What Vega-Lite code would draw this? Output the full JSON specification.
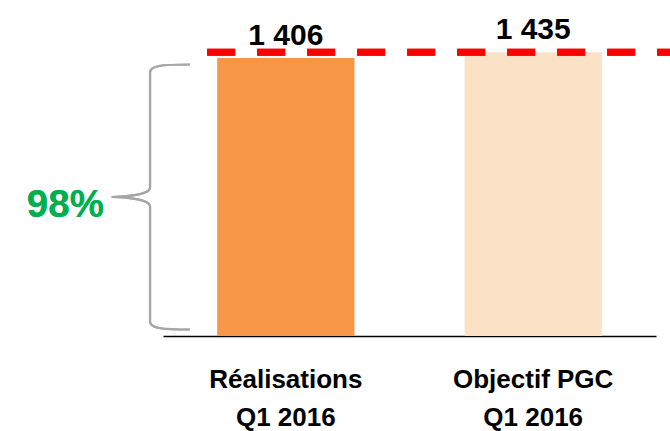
{
  "$schema": "https://vega.github.io/schema/vega-lite/v6.json",
  "width": 670,
  "height": 336,
  "autosize": "none",
  "padding": {"left": 0, "top": 0, "right": 0, "bottom": 95},
  "background": "white",
  "config": {
    "view": {"stroke": null},
    "font": "Liberation Sans",
    "locale": {"number": {"decimal": ",", "thousands": " ", "grouping": [3], "currency": ["", " €"]}}
  },
  "data": {
    "values": [
      {"categorie": "Réalisations\nQ1 2016", "valeur": 1406, "serie": "Réalisations"},
      {"categorie": "Objectif PGC\nQ1 2016", "valeur": 1435, "serie": "Objectif"}
    ]
  },
  "layer": [
    {
      "mark": {"type": "bar"},
      "encoding": {
        "x": {
          "field": "categorie", "type": "nominal", "sort": null,
          "scale": {"range": [163, 656], "paddingInner": 0.445, "paddingOuter": 0.219},
          "axis": {
            "title": null,
            "labelExpr": "split(datum.value, '\\n')",
            "labelAngle": 0,
            "labelFont": "Liberation Sans",
            "labelFontWeight": "bold",
            "labelFontSize": 26,
            "labelColor": "black",
            "labelLineHeight": 38,
            "labelPadding": 30,
            "labelLimit": 0,
            "ticks": false,
            "grid": false,
            "domainColor": "black",
            "domainWidth": 1.7
          }
        },
        "y": {
          "field": "valeur", "type": "quantitative",
          "scale": {"domain": [0, 1699.5], "nice": false, "zero": true},
          "axis": null
        },
        "color": {
          "field": "serie", "type": "nominal", "sort": null,
          "scale": {"domain": ["Réalisations", "Objectif"], "range": ["#F79646", "#FBE1C6"]},
          "legend": null
        }
      }
    },
    {
      "mark": {"type": "rule", "strokeDash": [28, 22], "strokeWidth": 7, "color": "#FF0000"},
      "encoding": {
        "x": {"datum": "Réalisations\nQ1 2016", "bandPosition": -0.073, "type": "nominal"},
        "x2": {"datum": "Objectif PGC\nQ1 2016", "bandPosition": 1.504},
        "y": {"datum": 1435, "type": "quantitative"}
      }
    },
    {
      "mark": {"type": "text", "font": "Liberation Sans", "fontWeight": "bold", "fontSize": 30, "color": "black", "baseline": "alphabetic", "dy": -13},
      "encoding": {
        "x": {"field": "categorie", "type": "nominal", "sort": null},
        "y": {"field": "valeur", "type": "quantitative"},
        "text": {"field": "valeur", "type": "quantitative", "format": ",d"}
      }
    },
    {
      "mark": {
        "type": "point", "filled": false, "color": "#A6A6A6", "strokeWidth": 2.2, "size": 70225, "opacity": 1,
        "shape": "M0.3,-1 C0.08,-1 0,-0.99 0,-0.94 L0,-0.07 C0,-0.02 -0.18,0 -0.29,0 C-0.18,0 0,0.02 0,0.07 L0,0.94 C0,0.99 0.08,1 0.3,1"
      },
      "encoding": {
        "x": {"datum": "Réalisations\nQ1 2016", "bandPosition": -0.489, "type": "nominal"},
        "y": {"datum": 703, "type": "quantitative"}
      }
    },
    {
      "mark": {"type": "text", "font": "Liberation Sans", "fontWeight": "bold", "fontSize": 38.5, "color": "#00B050", "align": "right", "baseline": "alphabetic", "dy": 20},
      "encoding": {
        "x": {"datum": "Réalisations\nQ1 2016", "bandPosition": -0.825, "type": "nominal"},
        "y": {"datum": 703, "type": "quantitative"},
        "text": {"value": "98%"}
      }
    }
  ]
}
